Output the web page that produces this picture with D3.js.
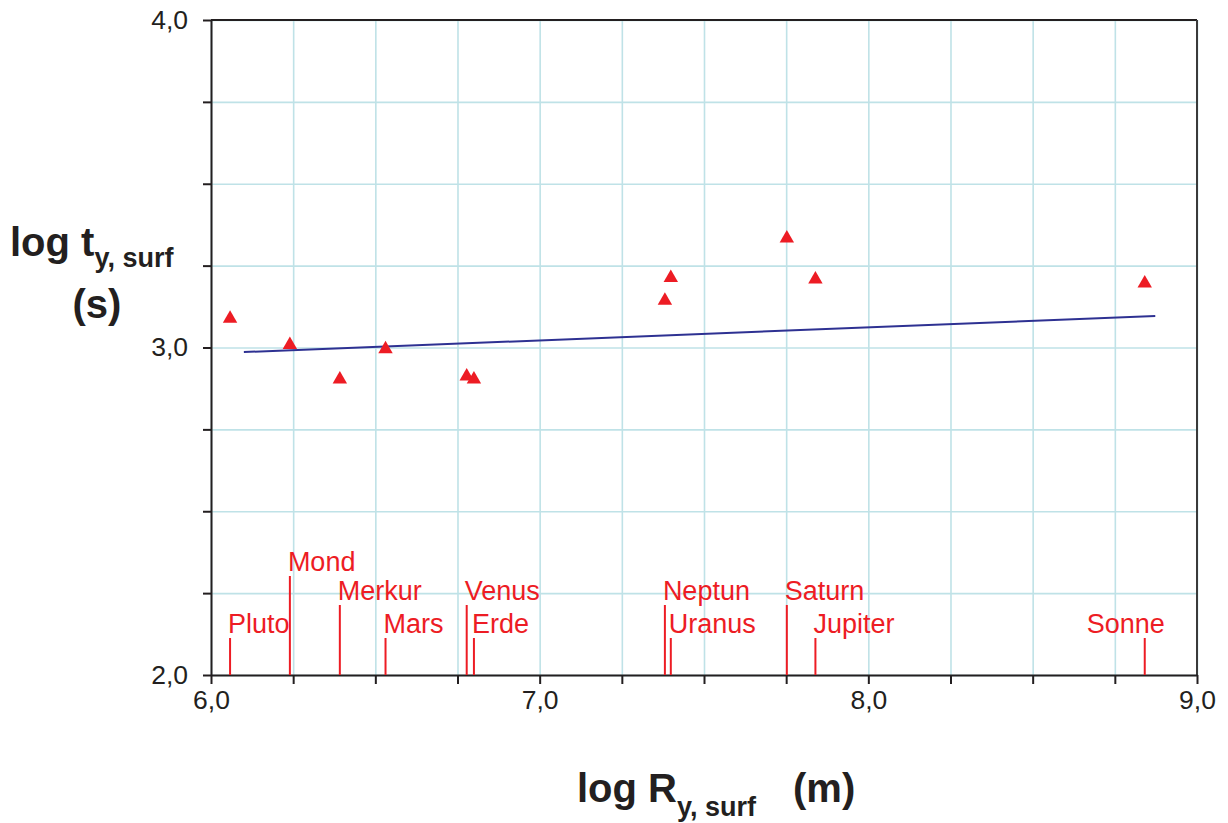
<!DOCTYPE html>
<html>
<head>
<meta charset="utf-8">
<script src="https://cdn.jsdelivr.net/npm/d3@7"></script>
<style>
  body { margin: 0; background: #fff; }
  svg text { font-family: "Liberation Sans", Arial, sans-serif; }
</style>
</head>
<body>
<div id="chart"></div>
<script>
// bodies and their values (log radius in m, log time in s)
const bodies = ["Pluto", "Mond", "Merkur", "Mars", "Venus", "Erde", "Neptun", "Uranus", "Saturn", "Jupiter", "Sonne"];
const logR = [6.058, 6.240, 6.392, 6.531, 6.778, 6.800, 7.381, 7.399, 7.752, 7.839, 8.841];
const logT = [3.088, 3.008, 2.903, 2.995, 2.912, 2.903, 3.143, 3.213, 3.333, 3.208, 3.196];
const labelLevel = [0, 2, 1, 0, 1, 0, 1, 0, 1, 0, 0];

// trend line end points
const trendR = [6.100, 8.873];
const trendT = [2.986, 3.096];

const xTicks = d3.range(6, 9.001, 0.25);
const yTicks = d3.range(2, 4.001, 0.25);

const width = 1228, height = 823;
const margin = {top: 20, right: 31, bottom: 148, left: 211};
const w = width - margin.left - margin.right;
const h = height - margin.top - margin.bottom;

const svg = d3.select("#chart").append("svg")
    .attr("width", width)
    .attr("height", height);

const g = svg.append("g")
    .attr("transform", "translate(" + margin.left + "," + margin.top + ")");

const x = d3.scaleLinear().domain([6, 9]).range([0, w]);
const y = d3.scaleLinear().domain([2, 4]).range([h, 0]);

const fmt = d => Math.abs(d - Math.round(d)) < 1e-9 ? d.toFixed(1).replace(".", ",") : "";

// grid
const gridColor = "#bfe2e7";
g.append("g")
  .attr("transform", "translate(0," + h + ")")
  .call(d3.axisBottom(x).tickValues(xTicks).tickSize(-h).tickFormat(""))
  .call(s => s.select(".domain").remove())
  .selectAll("line").attr("stroke", gridColor).attr("stroke-width", 1.6);
g.append("g")
  .call(d3.axisLeft(y).tickValues(yTicks).tickSize(-w).tickFormat(""))
  .call(s => s.select(".domain").remove())
  .selectAll("line").attr("stroke", gridColor).attr("stroke-width", 1.6);

// frame top / right
const axisColor = "#231f20";
g.append("line").attr("x1", 0).attr("x2", w).attr("y1", 0).attr("y2", 0)
  .attr("stroke", axisColor).attr("stroke-width", 2);
g.append("line").attr("x1", w).attr("x2", w).attr("y1", 0).attr("y2", h)
  .attr("stroke", "#3a3a3a").attr("stroke-width", 2);

// axes
const xAxis = g.append("g")
  .attr("transform", "translate(0," + h + ")")
  .call(d3.axisBottom(x).tickValues(xTicks).tickSize(9).tickSizeOuter(0).tickPadding(6).tickFormat(fmt));
const yAxis = g.append("g")
  .call(d3.axisLeft(y).tickValues(yTicks).tickSize(8).tickSizeOuter(0).tickPadding(15).tickFormat(fmt));

[xAxis, yAxis].forEach(a => {
  a.select(".domain").attr("stroke", axisColor).attr("stroke-width", 2);
  a.selectAll(".tick line").attr("stroke", axisColor).attr("stroke-width", 2);
  a.selectAll(".tick text").attr("fill", axisColor).style("font-size", "26.5px");
});

// label lines and names
const red = "#ed1c24";
const levelHeight = [37, 70, 99];
const labels = g.append("g");
bodies.forEach((name, i) => {
  const px = x(logR[i]);
  const top = h - levelHeight[labelLevel[i]];
  labels.append("line")
    .attr("x1", px).attr("x2", px)
    .attr("y1", h).attr("y2", top)
    .attr("stroke", red).attr("stroke-width", 2);
  const last = i === bodies.length - 1;
  labels.append("text")
    .attr("x", last ? px + 20 : px - 2)
    .attr("y", top - 5)
    .attr("text-anchor", last ? "end" : "start")
    .attr("fill", red)
    .style("font-size", "27px")
    .text(name);
});

// trend line
g.append("path")
  .datum(trendR.map((r, i) => [r, trendT[i]]))
  .attr("fill", "none")
  .attr("stroke", "#2e3192")
  .attr("stroke-width", 2)
  .attr("d", d3.line().x(d => x(d[0])).y(d => y(d[1])));

// points
g.selectAll(".pt")
  .data(bodies)
  .enter()
  .append("path")
  .attr("class", "pt")
  .attr("transform", (d, i) => "translate(" + x(logR[i]) + "," + y(logT[i]) + ")")
  .attr("d", d3.symbol().type(d3.symbolTriangle).size(90))
  .attr("fill", red);

// axis titles
const yt = svg.append("text")
  .attr("x", 10).attr("y", 256)
  .attr("fill", axisColor)
  .style("font-weight", "bold")
  .style("font-size", "40px");
yt.append("tspan").text("log t");
yt.append("tspan").attr("dy", 11).style("font-size", "27px").text("y, surf");

svg.append("text")
  .attr("x", 97).attr("y", 318)
  .attr("text-anchor", "middle")
  .attr("fill", axisColor)
  .style("font-weight", "bold")
  .style("font-size", "40px")
  .text("(s)");

const xt = svg.append("text")
  .attr("x", 577).attr("y", 802)
  .attr("fill", axisColor)
  .style("font-weight", "bold")
  .style("font-size", "40px");
xt.append("tspan").text("log R");
xt.append("tspan").attr("dy", 14).style("font-size", "27px").text("y, surf");
xt.append("tspan").attr("x", 793).attr("dy", -14).text("(m)");
</script>
</body>
</html>
